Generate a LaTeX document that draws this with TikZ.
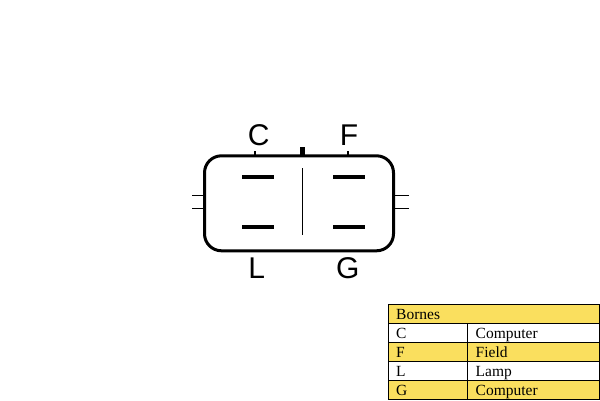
\documentclass[tikz,border=0pt]{standalone}
\usepackage{fontspec}
\setmainfont{Liberation Serif}
\newfontfamily\lblfont{Liberation Sans}
\definecolor{rowyellow}{HTML}{FADF5E}
\tikzset{
  x=1pt,y=-1pt,
  housing/.style={draw=black,line width=3pt,rounded corners=17pt,minimum width=189pt,minimum height=95pt,inner sep=0pt},
  blade/.style={fill=black,minimum width=32pt,minimum height=3.6pt,inner sep=0pt},
  lead/.style={draw=black,line width=0.8pt},
  pinlabel/.style={font=\lblfont\fontsize{30}{30}\selectfont,inner sep=0pt,anchor=center},
  cellw/.style={draw=black,line width=1pt,anchor=north west,inner sep=0pt,minimum height=19pt,minimum width=#1},
  celltxt/.style={font=\fontsize{15.5}{16}\selectfont,inner sep=0pt,anchor=base west},
}
\begin{document}
\begin{tikzpicture}
\useasboundingbox (0,0) rectangle (600,400);
\fill[white] (0,0) rectangle (600,400);
% housing
\node[housing] (body) at (299,203.3) {};
\node[blade] (bTL) at (258,176.7) {};
\node[blade] (bTR) at (349,176.7) {};
\node[blade] (bBL) at (258.3,226.7) {};
\node[blade] (bBR) at (349,226.7) {};
\coordinate (divT) at (302.3,168);
\coordinate (divB) at (302.3,235);
\draw[lead] (divT) -- (divB);
% top studs
\node[fill=black,minimum width=4.6pt,minimum height=9pt,inner sep=0pt] (nub) at (302.5,151) {};
\node[fill=black,minimum width=1.8pt,minimum height=3.5pt,inner sep=0pt] (tickC) at (254.7,153) {};
\node[fill=black,minimum width=1.8pt,minimum height=3.5pt,inner sep=0pt] (tickF) at (348.3,153) {};
% side leads
\coordinate (l1) at (192,195); \coordinate (l1e) at (204,195);
\coordinate (l2) at (192,208); \coordinate (l2e) at (204,208);
\coordinate (r1) at (409,195); \coordinate (r1e) at (394,195);
\coordinate (r2) at (409,208); \coordinate (r2e) at (394,208);
\draw[lead] (l1) -- (l1e);
\draw[lead] (l2) -- (l2e);
\draw[lead] (r1) -- (r1e);
\draw[lead] (r2) -- (r2e);
% labels
\node[pinlabel] (lC) at (258.7,135) {C};
\node[pinlabel] (lF) at (349,135) {F};
\node[pinlabel] (lL) at (256.7,268.5) {L};
\node[pinlabel] (lG) at (347.7,268.5) {G};
% table
\node[cellw=210.5pt,fill=rowyellow] (head) at (388,304) {};
\node[cellw=79pt] (c1a) at (388,323) {};
\node[cellw=132pt] (c1b) at (467,323) {};
\node[cellw=79pt,fill=rowyellow] (c2a) at (388,342) {};
\node[cellw=132pt,fill=rowyellow] (c2b) at (467,342) {};
\node[cellw=79pt] (c3a) at (388,361) {};
\node[cellw=132pt] (c3b) at (467,361) {};
\node[cellw=79pt,fill=rowyellow] (c4a) at (388,380) {};
\node[cellw=132pt,fill=rowyellow] (c4b) at (467,380) {};
\node[celltxt] (t0) at (396,319) {Bornes};
\node[celltxt] (t1a) at (396,338) {C};
\node[celltxt] (t1b) at (475.5,338) {Computer};
\node[celltxt] (t2a) at (396,357) {F};
\node[celltxt] (t2b) at (475.5,357) {Field};
\node[celltxt] (t3a) at (396,376) {L};
\node[celltxt] (t3b) at (475.5,376) {Lamp};
\node[celltxt] (t4a) at (396,395) {G};
\node[celltxt] (t4b) at (475.5,395) {Computer};
\end{tikzpicture}
\end{document}
